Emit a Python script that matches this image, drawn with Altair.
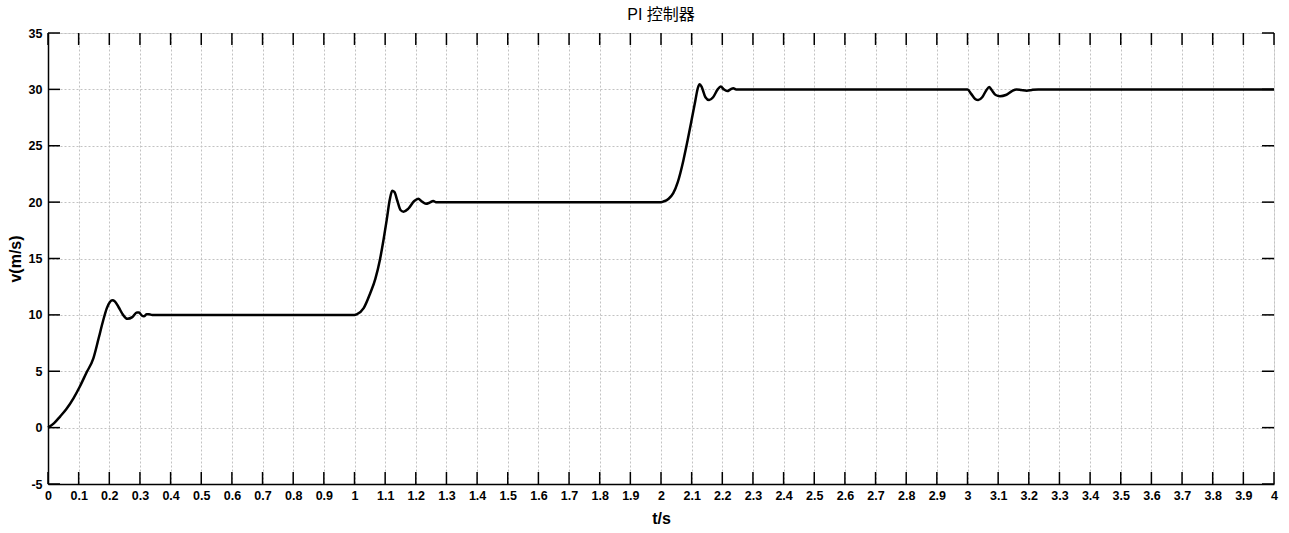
import altair as alt
import pandas as pd

# time (s) and speed (m/s)
t_vals = [0, 0.02, 0.04, 0.06, 0.083, 0.104, 0.125, 0.148, 0.165, 0.18, 0.192, 0.202, 0.21, 0.218,
          0.23, 0.245, 0.259, 0.275, 0.29, 0.297, 0.306, 0.313, 0.322, 0.33, 0.34, 1.0,
          1.007, 1.03, 1.051, 1.068, 1.083, 1.095, 1.105, 1.115, 1.123, 1.13, 1.14, 1.15, 1.16,
          1.175, 1.195, 1.208, 1.22, 1.233, 1.245, 1.257, 1.265, 1.275, 2.0,
          2.008, 2.025, 2.04, 2.055, 2.073, 2.087, 2.1, 2.112, 2.12, 2.126, 2.133, 2.145, 2.157,
          2.17, 2.185, 2.195, 2.205, 2.216, 2.227, 2.236, 2.245, 2.26, 3.0,
          3.012, 3.025, 3.035, 3.048, 3.062, 3.071, 3.08, 3.092, 3.106, 3.125, 3.145, 3.16,
          3.175, 3.193, 3.21, 3.231, 3.3, 4.0]
v_vals = [0, 0.4, 1.0, 1.65, 2.6, 3.65, 4.85, 6.15, 7.9, 9.5, 10.6, 11.15, 11.3, 11.2,
          10.7, 10.0, 9.65, 9.8, 10.2, 10.2, 9.95, 9.88, 10.05, 10.05, 10.0, 10.0,
          10.05, 10.6, 11.9, 13.2, 14.9, 16.7, 18.4, 20.2, 21.0, 20.9, 20.1, 19.3, 19.15,
          19.4, 20.1, 20.3, 20.05, 19.85, 19.95, 20.1, 20.0, 20.0, 20.0,
          20.05, 20.3, 20.8, 21.8, 23.7, 25.5, 27.3, 29.0, 30.1, 30.45, 30.2, 29.3, 29.05,
          29.3, 30.0, 30.25, 30.0, 29.85, 30.0, 30.1, 30.0, 30.0, 30.0,
          29.6, 29.15, 29.05, 29.3, 29.95, 30.2, 29.9, 29.5, 29.4, 29.5, 29.85, 30.0,
          29.95, 29.88, 29.95, 30.0, 30.0, 30.0]

x_ticks = [round(i * 0.1, 1) for i in range(41)]
y_ticks = [-5, 0, 5, 10, 15, 20, 25, 30, 35]

W, H = 1226, 451
TL = 12
FONT = "Liberation Sans"

df = pd.DataFrame({"t": t_vals, "v": v_vals})
xt = pd.DataFrame({"t": x_ticks})
yt = pd.DataFrame({"v": y_ticks})

xscale = alt.Scale(domain=[0, 4], nice=False, zero=False)
yscale = alt.Scale(domain=[-5, 35], nice=False, zero=False)

xaxis = alt.Axis(title="t/s", values=x_ticks, labelExpr="toString(datum.value)",
                 grid=True, ticks=False, domain=True, domainColor="black", domainWidth=1.5,
                 labelOverlap=False, labelFlush=False, labelPadding=5,
                 labelFont=FONT, labelFontSize=12.5, labelFontWeight="bold", labelColor="black",
                 titleFont=FONT, titleFontSize=16, titleFontWeight="bold", titleColor="black",
                 titlePadding=9, gridColor="#c2c2c2", gridDash=[2, 2], gridWidth=1)
yaxis = alt.Axis(title="v(m/s)", values=y_ticks, labelExpr="toString(datum.value)",
                 grid=True, ticks=False, domain=True, domainColor="black", domainWidth=1.5,
                 labelOverlap=False, labelFlush=False, labelPadding=6,
                 labelFont=FONT, labelFontSize=12.5, labelFontWeight="bold", labelColor="black",
                 titleFont=FONT, titleFontSize=16, titleFontWeight="bold", titleColor="black",
                 titlePadding=5, gridColor="#c2c2c2", gridDash=[2, 2], gridWidth=1)

line = alt.Chart(df).mark_line(color="black", strokeWidth=2.5, interpolate="monotone").encode(
    x=alt.X("t:Q", scale=xscale, axis=xaxis),
    y=alt.Y("v:Q", scale=yscale, axis=yaxis),
)

bottom = alt.Chart(xt).mark_rule(color="black", strokeWidth=1.5).encode(
    x=alt.X("t:Q", scale=xscale, axis=xaxis), y=alt.value(H), y2=alt.value(H - TL))
top = alt.Chart(xt).mark_rule(color="black", strokeWidth=1.5).encode(
    x=alt.X("t:Q", scale=xscale, axis=xaxis), y=alt.value(0), y2=alt.value(TL))
left = alt.Chart(yt).mark_rule(color="black", strokeWidth=1.5).encode(
    y=alt.Y("v:Q", scale=yscale, axis=yaxis), x=alt.value(0), x2=alt.value(TL))
right = alt.Chart(yt).mark_rule(color="black", strokeWidth=1.5).encode(
    y=alt.Y("v:Q", scale=yscale, axis=yaxis), x=alt.value(W), x2=alt.value(W - TL))

chart = alt.layer(line, bottom, top, left, right).properties(
    width=W, height=H,
    title=alt.TitleParams("PI 控制器", font="Liberation Sans, Noto Sans CJK SC", fontSize=16,
                          fontWeight="normal", color="black", anchor="middle", offset=4),
    autosize=alt.AutoSizeParams(type="none"),
    padding={"left": 48, "top": 33, "right": 15, "bottom": 49},
).configure_view(stroke="black", strokeWidth=1.5).configure(background="white")

chart.save("out.html", embed_options={"renderer": "svg", "actions": False})
